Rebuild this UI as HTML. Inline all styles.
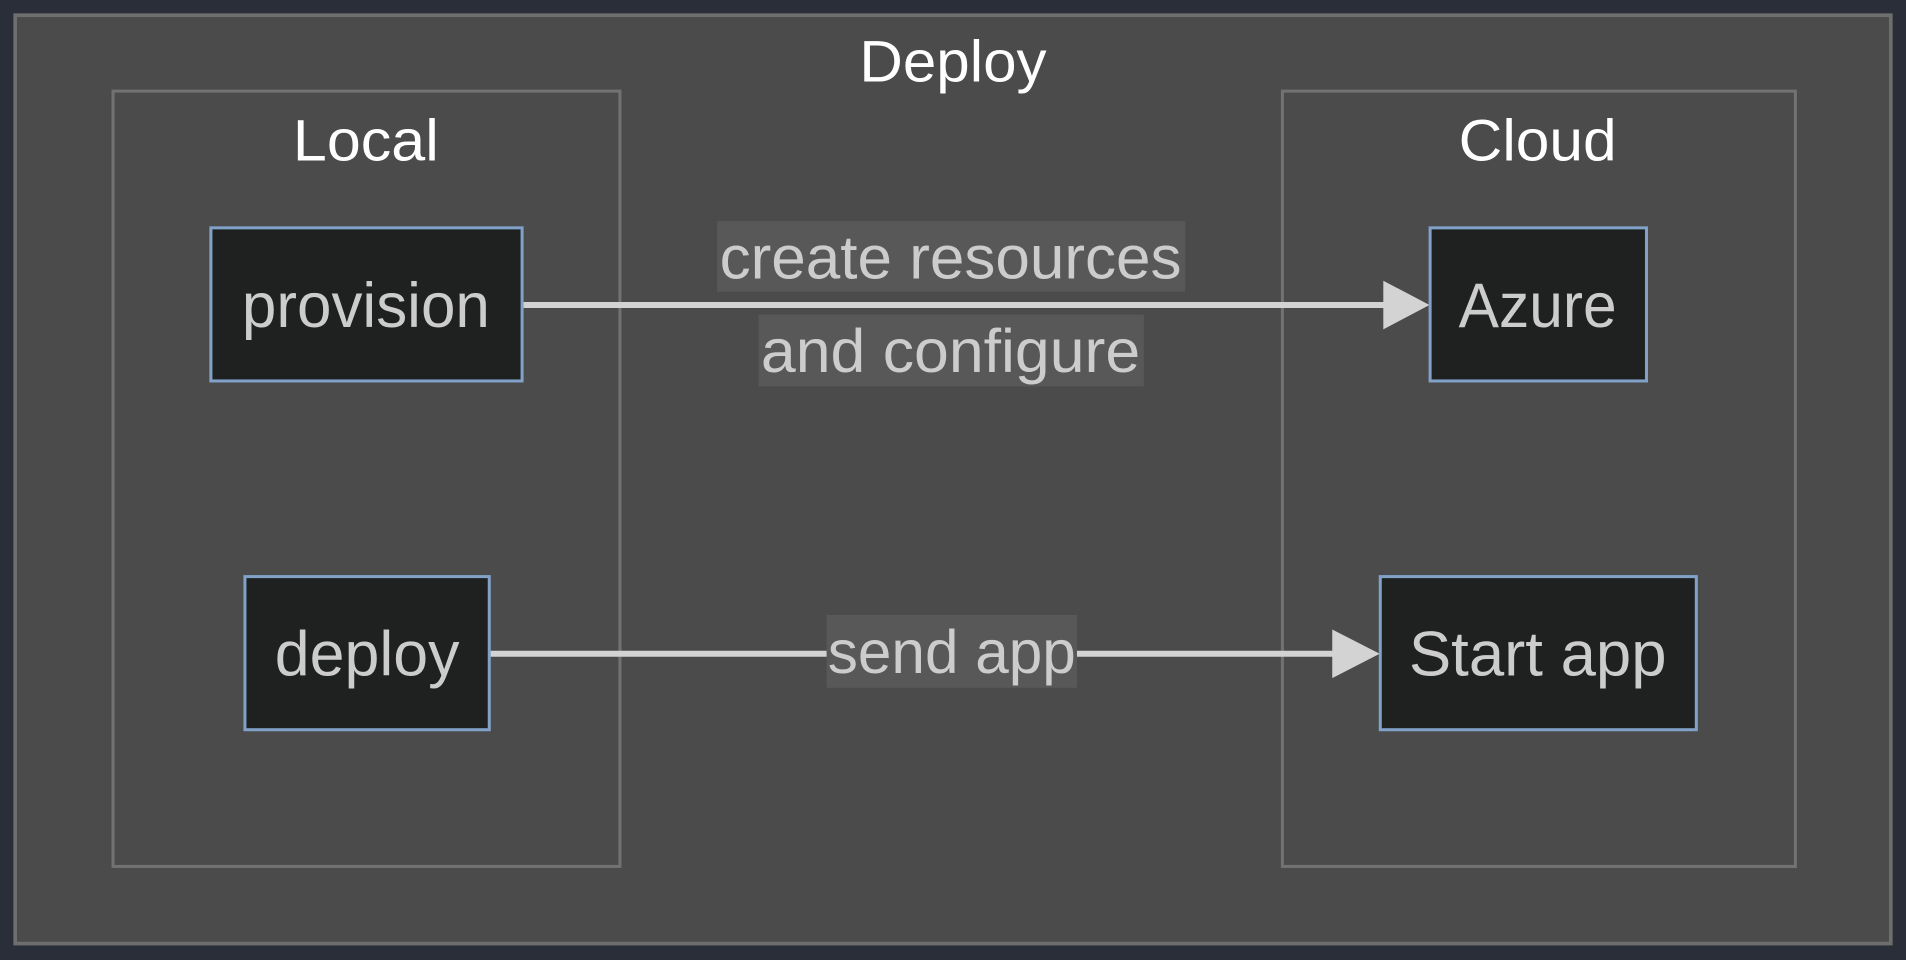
<!DOCTYPE html>
<html><head><meta charset="utf-8"><style>
html,body{margin:0;padding:0;background:#2a2e39;width:1906px;height:960px;overflow:hidden}
svg{display:block}
text{font-family:"Liberation Sans",sans-serif}
</style></head><body>
<svg width="1906" height="960" viewBox="0 0 1568 790" preserveAspectRatio="none">
<rect x="0" y="0" width="1568" height="790" fill="#2a2e39"/>
<rect x="12.5" y="12.5" width="1543" height="764" fill="#4a4b4a" stroke="#6e6e6e" stroke-width="3"/>
<text x="784" y="67" font-size="48" fill="#ffffff" text-anchor="middle" textLength="154" lengthAdjust="spacingAndGlyphs">Deploy</text>
<rect x="93" y="75" width="417" height="638" fill="#4a4b4a" stroke="#727272" stroke-width="2.5"/>
<text x="301" y="132" font-size="48" fill="#ffffff" text-anchor="middle" textLength="120" lengthAdjust="spacingAndGlyphs">Local</text>
<rect x="1055" y="75" width="422" height="638" fill="#4a4b4a" stroke="#727272" stroke-width="2.5"/>
<text x="1265" y="132" font-size="48" fill="#ffffff" text-anchor="middle" textLength="130" lengthAdjust="spacingAndGlyphs">Cloud</text>

<line x1="430" y1="251" x2="1142" y2="251" stroke="#d3d3d3" stroke-width="5"/>
<polygon points="1138,231 1176,251 1138,271" fill="#d3d3d3"/>
<line x1="403" y1="538" x2="1100" y2="538" stroke="#d3d3d3" stroke-width="5"/>
<polygon points="1096,518 1135,538 1096,558" fill="#d3d3d3"/>

<rect x="590" y="182" width="385" height="58" fill="#585858"/>
<text x="782" y="229" font-size="50" fill="#cccccc" text-anchor="middle" textLength="380" lengthAdjust="spacingAndGlyphs">create resources</text>
<rect x="624" y="259" width="317" height="59" fill="#585858"/>
<text x="782" y="306" font-size="50" fill="#cccccc" text-anchor="middle" textLength="312" lengthAdjust="spacingAndGlyphs">and configure</text>
<rect x="680" y="506" width="206" height="60" fill="#585858"/>
<text x="783" y="554" font-size="50" fill="#cccccc" text-anchor="middle" textLength="204" lengthAdjust="spacingAndGlyphs">send app</text>

<rect x="173.5" y="187.5" width="256" height="126" fill="#1f2020" stroke="#81a1c8" stroke-width="2.5"/>
<text x="301" y="269" font-size="52" fill="#cccccc" text-anchor="middle" textLength="204" lengthAdjust="spacingAndGlyphs">provision</text>
<rect x="1176.5" y="187.5" width="178" height="126" fill="#1f2020" stroke="#81a1c8" stroke-width="2.5"/>
<text x="1265" y="269" font-size="52" fill="#cccccc" text-anchor="middle" textLength="130" lengthAdjust="spacingAndGlyphs">Azure</text>
<rect x="201.5" y="474.5" width="201" height="126" fill="#1f2020" stroke="#81a1c8" stroke-width="2.5"/>
<text x="302" y="556" font-size="52" fill="#cccccc" text-anchor="middle" textLength="152" lengthAdjust="spacingAndGlyphs">deploy</text>
<rect x="1135.5" y="474.5" width="260" height="126" fill="#1f2020" stroke="#81a1c8" stroke-width="2.5"/>
<text x="1265" y="556" font-size="52" fill="#cccccc" text-anchor="middle" textLength="212" lengthAdjust="spacingAndGlyphs">Start app</text>
</svg>
</body></html>
